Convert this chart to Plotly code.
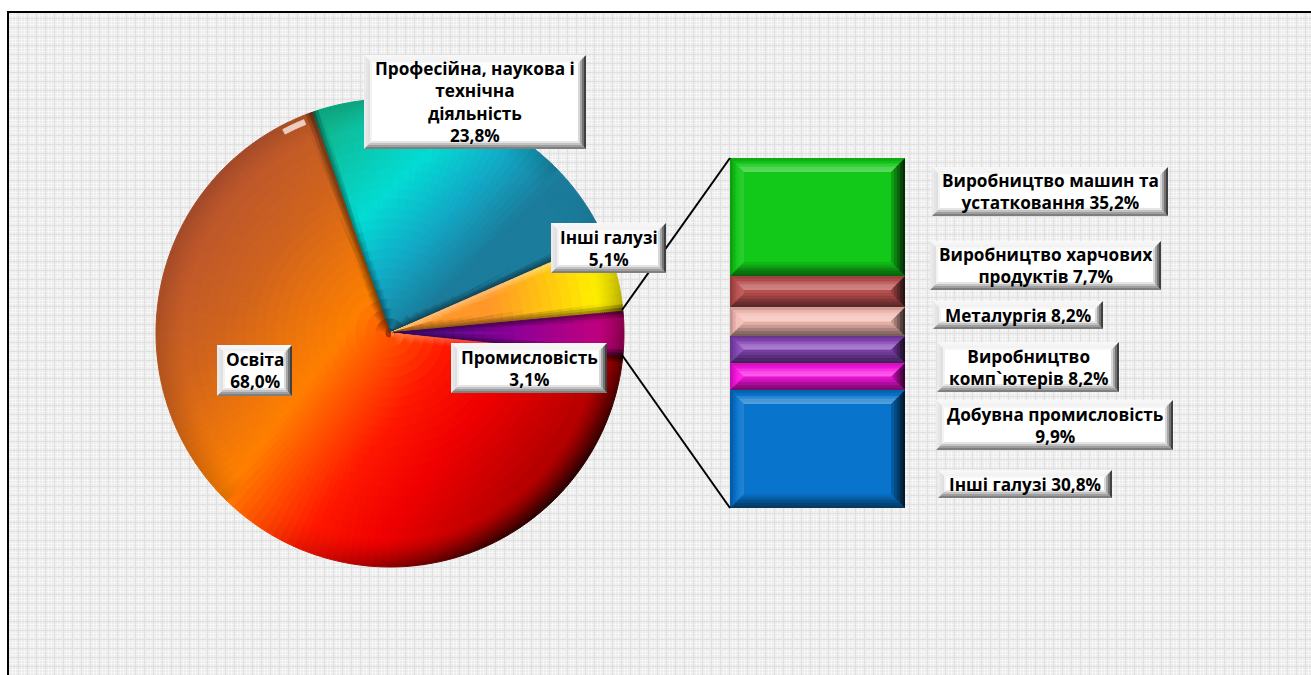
import math
import plotly.graph_objects as go

# ---------- data ----------
PIE_LABELS = ["Професійна, наукова і<br>технічна<br>діяльність", "Інші галузі", "Промисловість", "Освіта"]
PIE_VALUES = [23.8, 5.1, 3.1, 68.0]
PIE_PERCENT = ["23,8%", "5,1%", "3,1%", "68,0%"]
PIE_ROTATION = 340.6

BAR_LABELS = ["Виробництво машин та<br>устатковання 35,2%", "Виробництво харчових<br>продуктів 7,7%",
              "Металургія 8,2%", "Виробництво<br>комп`ютерів 8,2%",
              "Добувна промисловість<br>9,9%", "Інші галузі 30,8%"]
BAR_HEIGHTS = [33.7, 8.9, 8.3, 7.7, 7.7, 33.7]
BAR_SEGMENT_COLORS = ["#12c818", "#b84e4e", "#f4bcb4", "#8444b4", "#f814e0", "#0874cc"]

W, H = 1311, 675
CX, CY, R = 390, 333, 234
BX0, BX1, BY0, BY1 = 730, 905, 158, 508

PIE_STOPS = [
    ((.7071, .7071), -190, 10, [(0, "#10b890"), (.45, "#04dcd4"), (.72, "#12acc8"), (1, "#1c7c9c")]),
    ((1, 0), 100, 205, [(0, "#ff9828"), (.55, "#ffc810"), (1, "#fff000")]),
    ((1, 0), 20, 234, [(0, "#5a10a0"), (.5, "#900098"), (1, "#d00078")]),
    ((.8, .6), -230, 230, [(0, "#b85430"), (.2, "#d0641e"), (.42, "#ff8000"), (.62, "#ff1800"), (.75, "#f00000"), (1, "#a00000")]),
]


def rgb(h):
    return tuple(int(h[i:i + 2], 16) for i in (1, 3, 5))


def grad(stops, t):
    t = min(1, max(0, t))
    for (a, ca), (b, cb) in zip(stops, stops[1:]):
        if t <= b:
            u = (t - a) / (b - a)
            return tuple(x + (y - x) * u for x, y in zip(rgb(ca), rgb(cb)))
    return rgb(stops[-1][1])


def shade(c, f):
    if f >= 0:
        return tuple(v + (255 - v) * f for v in c)
    return tuple(v * (1 + f) for v in c)


def wedge_angles(deg):
    fine = [0.8] * 3
    rest = deg - 4.8
    n = max(1, round(rest / 2))
    return fine + [rest / n] * n + fine


def cell_color(i, th0, th1, a0, a1, r):
    th = (th0 + th1) / 2
    rad = math.radians(PIE_ROTATION + th)
    nx, ny = math.sin(rad), -math.cos(rad)
    x, y = r * nx, r * ny
    d, lo, hi, st = PIE_STOPS[i]
    c = grad(st, ((x * d[0] + y * d[1]) - lo) / (hi - lo))
    de0 = r * math.sin(math.radians(min(80, th - a0)))
    de1 = r * math.sin(math.radians(min(80, a1 - th)))
    e = max(0, 1 - min(de0, de1) / 8)
    rim = max(0, 1 - (R - r) / 28) ** 1.4
    s = (nx + ny) * .7071
    if s > 0:
        f = -0.78 * rim * s * s
    else:
        f = -0.12 * rim
    if e > 0:
        if i == 1 and de0 < de1:
            f = .4 * e
        elif i == 3 and de0 < de1 and r < 200:
            f = .25 * e
        else:
            f -= .45 * e
    if i == 3 and 3 < a1 - th < 9 and 4 < R - r < 10:
        f = .7
    f = max(-.92, f)
    return "rgb(%d,%d,%d)" % shade(c, f)


fig = go.Figure()

radii = list(range(R, R - 30, -2)) + list(range(R - 40, 0, -10))
total = sum(PIE_VALUES)
for k, rr in enumerate(radii):
    rin = radii[k + 1] if k + 1 < len(radii) else 0
    rm = (rr + rin) / 2
    vals, cols = [], []
    for i, v in enumerate(PIE_VALUES):
        deg = v / total * 360
        offset = sum(PIE_VALUES[:i]) / total * 360
        cur = offset
        for w in wedge_angles(deg):
            vals.append(w)
            cols.append(cell_color(i, cur, cur + w, offset, offset + deg, rm))
            cur += w
    fig.add_trace(go.Pie(
        values=vals, sort=False, direction="clockwise", rotation=PIE_ROTATION,
        marker=dict(colors=cols, line=dict(color=cols, width=1)),
        textinfo="none", hoverinfo="skip", showlegend=False,
        domain=dict(x=[(CX - rr) / W, (CX + rr) / W], y=[(H - CY - rr) / H, (H - CY + rr) / H]),
    ))

for name, h, c in zip(BAR_LABELS, BAR_HEIGHTS, BAR_SEGMENT_COLORS):
    fig.add_trace(go.Bar(x=[0], y=[h], width=[1], marker=dict(color=c, line=dict(width=0)),
                         xaxis="x2", yaxis="y2", hoverinfo="skip", showlegend=False))

shapes = []


def strip(xf, yf, xref, yref, x0, y0, x1, y1, bx, by, side, t0, t1, a):
    def rectp(t):
        return (x0 + bx * t, y0 + by * t, x1 - bx * t, y1 - by * t)
    l0, t_0, r0, b0 = rectp(t0)
    l1, t_1, r1, b1 = rectp(t1)
    pts = {
        "top": [(l0, t_0), (r0, t_0), (r1, t_1), (l1, t_1)],
        "bottom": [(l0, b0), (r0, b0), (r1, b1), (l1, b1)],
        "left": [(l0, t_0), (l1, t_1), (l1, b1), (l0, b0)],
        "right": [(r0, t_0), (r1, t_1), (r1, b1), (r0, b0)],
    }[side]
    path = "M " + " L ".join("%.3f %.3f" % (xf(p), yf(q)) for p, q in pts) + " Z"
    col = "rgba(255,255,255,%.3f)" % a if a > 0 else "rgba(0,0,0,%.3f)" % -a
    shapes.append(dict(type="path", path=path, xref=xref, yref=yref, fillcolor=col, line=dict(width=0), layer="above"))


def bevel(xf, yf, xref, yref, x0, y0, x1, y1, bx, by, spec):
    for side, alphas in spec.items():
        n = len(alphas)
        for j, a in enumerate(alphas):
            if a:
                strip(xf, yf, xref, yref, x0, y0, x1, y1, bx, by, side, j / n, (j + 1) / n, a)


BAR_SPEC = {
    "top": [-.15, -.04, .12, .26, .3],
    "bottom": [-.5, -.42, -.3, -.18, -.08],
    "left": [-.2, -.08, .02, .08, .1],
    "right": [-.78, -.65, -.5, -.35, -.2],
}
scale = (BY1 - BY0) / sum(BAR_HEIGHTS)
xf2 = lambda px: (px - BX0) / (BX1 - BX0) - .5
yf2 = lambda px: (px - BY0) / scale
cum = 0
for h in BAR_HEIGHTS:
    top = BY0 + cum * scale
    bot = BY0 + (cum + h) * scale
    by = min(14, (bot - top) / 2)
    bevel(xf2, yf2, "x2", "y2", BX0, top, BX1, bot, 14, by, BAR_SPEC)
    cum += h

shapes.append(dict(type="line", xref="x", yref="y", x0=622, y0=310, x1=BX0, y1=BY0, line=dict(color="black", width=2), layer="above"))
shapes.append(dict(type="line", xref="x", yref="y", x0=622, y0=355, x1=BX0, y1=BY1, line=dict(color="black", width=2), layer="above"))
shapes.append(dict(type="line", xref="paper", yref="paper", x0=8 / W, y0=0, x1=8 / W, y1=(H - 12) / H, line=dict(color="black", width=2), layer="above"))
shapes.append(dict(type="line", xref="paper", yref="paper", x0=7 / W, y0=(H - 12) / H, x1=1, y1=(H - 12) / H, line=dict(color="black", width=2), layer="above"))

PIE_BOXES = [(364, 55, 586, 149), (551, 223, 666, 273), (451, 343, 607, 393), (217, 345, 292, 396)]
BAR_BOXES = [(932, 167, 1168, 216), (930, 241, 1161, 290), (933, 301, 1103, 329),
             (937, 342, 1119, 392), (936, 400, 1173, 450), (938, 470, 1112, 498)]
LABEL_SPEC = {
    "top": [-.03, -.04, -.05, -.03],
    "bottom": [-.5, -.38, -.24, -.1],
    "left": [-.08, -.1, -.12, -.05],
    "right": [-.75, -.55, -.35, -.15],
}
texts = [f"{a}<br>{b}" for a, b in zip(PIE_LABELS, PIE_PERCENT)] + BAR_LABELS
anns = []
ident = lambda v: v
for box, text in zip(PIE_BOXES + BAR_BOXES, texts):
    x0, y0, x1, y1 = box
    shapes.append(dict(type="rect", xref="x", yref="y", x0=x0, y0=y0, x1=x1, y1=y1, fillcolor="white", line=dict(width=0), layer="above"))
    bevel(ident, ident, "x", "y", x0, y0, x1, y1, 8, 8, LABEL_SPEC)
    anns.append(dict(x=(x0 + x1) / 2, y=(y0 + y1) / 2, xref="x", yref="y", text=text, showarrow=False,
                     align="center", xanchor="center", yanchor="middle",
                     font=dict(family="Open Sans", size=17.2, color="black", weight=700)))

fig.update_layout(
    width=W, height=H, autosize=False, margin=dict(l=0, r=0, t=0, b=0),
    paper_bgcolor="white", plot_bgcolor="#ececec", barmode="stack", showlegend=False,
    shapes=shapes, annotations=anns,
    xaxis=dict(domain=[8 / W, 1], range=[8, W], showgrid=True, gridcolor="#e0e0e0", gridwidth=1, dtick=9, tick0=0,
               minor=dict(showgrid=True, dtick=3, gridcolor="#f6f6f6", gridwidth=1),
               zeroline=False, showticklabels=False, ticks="", showline=False, fixedrange=True),
    yaxis=dict(domain=[0, (H - 12) / H], range=[H, 12], showgrid=True, gridcolor="#e0e0e0", gridwidth=1, dtick=9, tick0=0,
               minor=dict(showgrid=True, dtick=3, gridcolor="#f6f6f6", gridwidth=1),
               zeroline=False, showticklabels=False, ticks="", showline=False, fixedrange=True),
    xaxis2=dict(domain=[BX0 / W, BX1 / W], range=[-.5, .5], anchor="y2", visible=False, fixedrange=True),
    yaxis2=dict(domain=[(H - BY1) / H, (H - BY0) / H], range=[sum(BAR_HEIGHTS), 0], anchor="x2", visible=False, fixedrange=True),
)
fig.write_html("out.html", config=dict(displayModeBar=False))

# the page's default body margin would shift the chart by 8px
with open("out.html", encoding="utf-8") as fh:
    page = fh.read()
page = page.replace("<body>", '<body style="margin:0;overflow:hidden">', 1)
with open("out.html", "w", encoding="utf-8") as fh:
    fh.write(page)
